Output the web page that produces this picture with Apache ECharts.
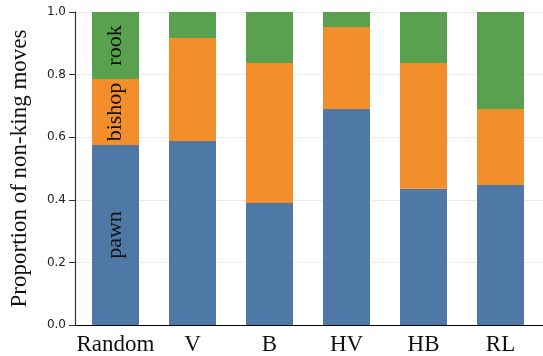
<!DOCTYPE html>
<html>
<head>
<meta charset="utf-8">
<script src="https://cdn.jsdelivr.net/npm/echarts@6/dist/echarts.min.js"></script>
<style>
  html, body { margin: 0; padding: 0; background: #fff; }
  #chart { width: 543px; height: 356px; }
</style>
</head>
<body>
<div id="chart"></div>
<script>
// Agents compared on the kinds of non-king moves they play
const categories = ['Random', 'V', 'B', 'HV', 'HB', 'RL'];
const pawn   = [0.575, 0.588, 0.390, 0.690, 0.435, 0.447];
const bishop = [0.211, 0.329, 0.447, 0.262, 0.402, 0.243];
const rook   = [0.214, 0.083, 0.163, 0.048, 0.163, 0.310];
const pieceNames = ['pawn', 'bishop', 'rook'];

const serif = '"Liberation Serif", "DejaVu Serif", serif';
const colors = ['#4e79a7', '#f28e2b', '#59a14f'];

function makeSeries(name, values, color) {
  return {
    name: name,
    type: 'bar',
    stack: 'moves',
    xAxisIndex: 1,
    yAxisIndex: 1,
    barWidth: 47,
    itemStyle: { color: color },
    data: values.map((v, i) => ({
      value: v,
      label: {
        show: i === 0,
        formatter: name,
        position: 'inside',
        rotate: 90,
        fontFamily: serif,
        fontSize: 22,
        color: '#111'
      }
    }))
  };
}

const chart = echarts.init(document.getElementById('chart'), null, { renderer: 'canvas' });
chart.setOption({
  animation: false,
  grid: [
    // full-width frame: y scale, gridlines, baseline
    { left: 70, right: 0, top: 12, bottom: 31 },
    // category band area holding the bars
    { left: 77, right: 4, top: 12, bottom: 31 }
  ],
  xAxis: [
    {
      type: 'value',
      gridIndex: 0,
      min: 0,
      max: 1,
      splitLine: { show: false },
      axisLine: { show: true, onZero: false, lineStyle: { color: '#000', width: 1.2 } },
      axisTick: { show: false },
      axisLabel: { show: false }
    },
    {
      type: 'category',
      gridIndex: 1,
      data: categories,
      axisLine: { show: false },
      axisTick: { show: false },
      axisLabel: {
        interval: 0,
        fontFamily: serif,
        fontSize: 23,
        color: '#111',
        margin: 8
      }
    }
  ],
  yAxis: [
    {
      type: 'value',
      gridIndex: 0,
      min: 0,
      max: 1,
      interval: 0.2,
      name: 'Proportion of non-king moves',
      nameLocation: 'middle',
      nameGap: 44,
      nameTextStyle: { fontFamily: serif, fontSize: 23, color: '#111' },
      axisLine: { show: true, onZero: false, lineStyle: { color: '#333', width: 1.2 } },
      axisTick: { show: true, length: 6, lineStyle: { color: '#333' } },
      axisLabel: {
        formatter: v => v.toFixed(1),
        fontFamily: '"DejaVu Sans", sans-serif',
        fontSize: 12,
        color: '#222',
        margin: 9
      },
      splitLine: { show: true, lineStyle: { color: '#ebebeb', width: 1 } }
    },
    {
      type: 'value',
      gridIndex: 1,
      min: 0,
      max: 1,
      show: false,
      splitLine: { show: false }
    }
  ],
  series: [
    makeSeries(pieceNames[0], pawn, colors[0]),
    makeSeries(pieceNames[1], bishop, colors[1]),
    makeSeries(pieceNames[2], rook, colors[2])
  ]
});
</script>
</body>
</html>
